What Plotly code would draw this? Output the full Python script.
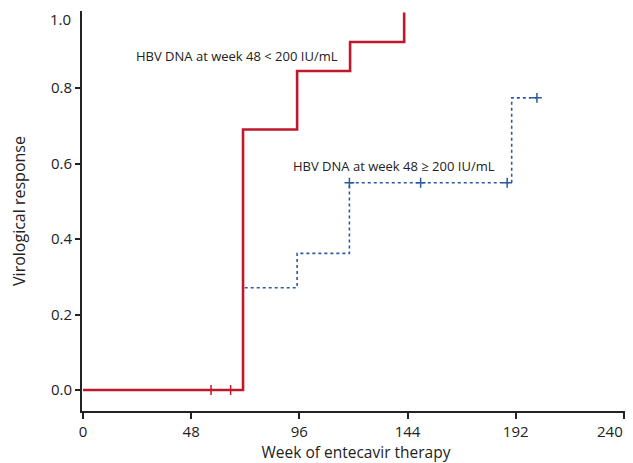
import plotly.graph_objects as go

# Data
red_weeks = [0, 71, 95, 118.5, 142.5]
red_resp = [0.0, 0.69, 0.845, 0.922, 1.0]
red_cens_weeks = [56.8, 65.5]
red_cens_resp = [0.0, 0.0]

blue_weeks = [0, 71, 95, 118.2, 190.2, 201.4]
blue_resp = [0.0, 0.271, 0.362, 0.549, 0.774, 0.774]
blue_cens_weeks = [118.2, 149.8, 188.2, 201.4]
blue_cens_resp = [0.549, 0.549, 0.549, 0.774]

x_ticks = [0, 48, 96, 144, 192, 240]
y_ticks = [0.0, 0.2, 0.4, 0.6, 0.8, 1.0]

label_low = "HBV DNA at week 48 < 200 IU/mL"
label_high = "HBV DNA at week 48 ≥ 200 IU/mL"

RED = "#C0182B"
BLUE = "#2B5A9E"
FONT = "Open Sans"
TXT = "#222"

fig = go.Figure()
fig.add_trace(go.Scatter(x=blue_weeks, y=blue_resp, mode="lines", line_shape="hv",
                         line=dict(color=BLUE, width=1.6, dash="dot"), showlegend=False))
fig.add_trace(go.Scatter(x=blue_cens_weeks, y=blue_cens_resp, mode="markers",
                         marker=dict(symbol="cross-thin", size=7, line=dict(color=BLUE, width=1.5)),
                         showlegend=False))
fig.add_trace(go.Scatter(x=red_weeks, y=red_resp, mode="lines", line_shape="hv",
                         line=dict(color=RED, width=2.6), showlegend=False))
fig.add_trace(go.Scatter(x=red_cens_weeks, y=red_cens_resp, mode="markers",
                         marker=dict(symbol="line-ns", size=7, line=dict(color=RED, width=1.5)),
                         showlegend=False))

fig.add_annotation(x=68.5, y=0.885, text=label_low, showarrow=False,
                   font=dict(family=FONT, size=13, color=TXT))
fig.add_annotation(x=137.8, y=0.594, text=label_high, showarrow=False,
                   font=dict(family=FONT, size=13, color=TXT))

# Top tick label (no tick mark at the top in the reference; label sits just below the axis end)
fig.add_annotation(xref="paper", x=0, xanchor="right", xshift=-9, y=y_ticks[-1], yshift=-6,
                   yanchor="middle", text=f"{y_ticks[-1]:.1f}", showarrow=False,
                   font=dict(family=FONT, size=15, color=TXT))
# Last x tick label, nudged left so it stays inside the page
fig.add_annotation(x=x_ticks[-1], xanchor="right", xshift=1, yref="paper", y=0, yshift=-20,
                   yanchor="middle", text=str(x_ticks[-1]), showarrow=False,
                   font=dict(family=FONT, size=15, color=TXT))

x_text = [str(v) for v in x_ticks[:-1]] + [""]

# The page body adds an 8px offset, so the figure is sized to fit the window
fig.update_layout(
    width=625, height=455,
    margin=dict(l=74, r=3, t=3, b=52),
    paper_bgcolor="white", plot_bgcolor="white",
    font=dict(family=FONT, color=TXT),
    xaxis=dict(range=[-0.45, 242.7], tickvals=x_ticks, ticktext=x_text,
               showline=True, linecolor=TXT, linewidth=2, ticks="outside",
               tickcolor=TXT, ticklen=6, tickwidth=2, showgrid=False, zeroline=False,
               tickfont=dict(size=15, family=FONT), automargin=False,
               title=dict(text="Week of entecavir therapy", font=dict(size=15.5, family=FONT), standoff=2)),
    yaxis=dict(range=[-0.0556, 1.004], tickvals=y_ticks[:-1], tickformat=".1f",
               showline=True, linecolor=TXT, linewidth=2, ticks="outside",
               tickcolor=TXT, ticklen=5, tickwidth=1.5, showgrid=False, zeroline=False,
               tickfont=dict(size=15, family=FONT), automargin=False,
               title=dict(text="Virological response", font=dict(size=16, family=FONT), standoff=24)),
)

fig.write_html("out.html")
